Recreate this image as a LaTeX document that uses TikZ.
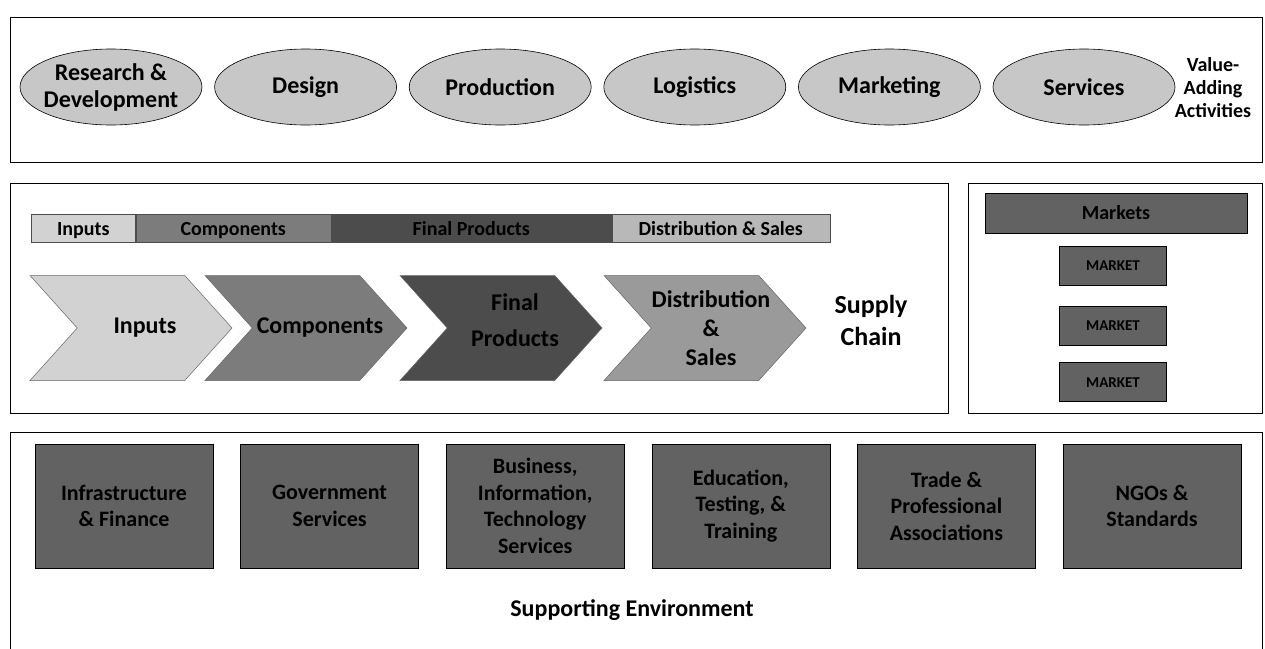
\documentclass[tikz,border=0pt]{standalone}
\usepackage{fontspec}
\setmainfont{Carlito}
\usetikzlibrary{positioning,shapes.geometric,shapes.symbols}

\definecolor{inputgray}{HTML}{D2D2D2}
\definecolor{compgray}{HTML}{7C7C7C}
\definecolor{finalgray}{HTML}{4C4C4C}
\definecolor{distgray}{HTML}{9A9A9A}
\definecolor{distlight}{HTML}{B8B8B8}
\definecolor{boxgray}{HTML}{626262}

\begin{document}
\begin{tikzpicture}
    [x=1pt,y=-1pt,
    panel/.style={draw=black,line width=0.8pt},
    activity/.style={ellipse,draw=black,line width=0.6pt,fill=black!22,
    inner sep=0pt,minimum width=182pt,minimum height=76pt,align=center,
    font=\fontsize{24}{27}\selectfont\bfseries},
    legend/.style={rectangle,draw=black!70,line width=0.5pt,inner sep=0pt,
    minimum height=28pt,text height=16pt,text depth=1pt,
    font=\fontsize{20}{22}\selectfont\bfseries},
    stage/.style={signal,signal from=west,signal to=east,signal pointer angle=96,
    draw=black!60,line width=0.5pt,inner sep=0pt,minimum width=202pt,
    minimum height=105pt},
    stagetext/.style={align=center,xshift=14pt,
    font=\fontsize{24}{29}\selectfont\bfseries},
    market/.style={rectangle,draw=black,line width=0.6pt,fill=boxgray,inner sep=0pt,
    minimum width=107pt,minimum height=39pt,font=\fontsize{15}{17}\selectfont\bfseries},
    support/.style={rectangle,draw=black,line width=0.6pt,fill=boxgray,inner sep=0pt,
    minimum width=178pt,minimum height=124pt,align=center,
    font=\fontsize{22}{26.5}\selectfont\bfseries},
    caption/.style={align=center,font=\fontsize{26}{32}\selectfont\bfseries}]
    \useasboundingbox (0,0) rectangle (1265,648);

    % value-adding activities
    \draw[panel] (10,17) rectangle (1262,162);
    \node[activity,inner sep=-8pt] (research) at (111,87) {Research \&\\Development};
    \node[activity] (design) [right=12pt of research] {Design};
    \node[activity] (production) [right=12pt of design] {Production};
    \node[activity] (logistics) [right=12pt of production] {Logistics};
    \node[activity] (marketing) [right=12pt of logistics] {Marketing};
    \node[activity] (services) [right=12pt of marketing] {Services};
    \node[caption,font=\fontsize{20}{23}\selectfont\bfseries] (value) at (1213,88) {Value-\\Adding\\Activities};

    % supply chain
    \draw[panel] (10,183) rectangle (948,413);
    \node[legend,fill=inputgray,minimum width=104pt,anchor=west] (l inputs) at (31,228) {Inputs};
    \node[legend,fill=compgray,minimum width=195pt] (l components) [right=0pt of l inputs] {Components};
    \node[legend,fill=finalgray,minimum width=280pt] (l final) [right=0pt of l components] {Final Products};
    \node[legend,fill=distlight,minimum width=218pt] (l distribution) [right=0pt of l final] {Distribution \& Sales};
    \node[stage,fill=inputgray,label={[stagetext]center:Inputs}] (inputs) at (131,328) {};
    \node[stage,fill=compgray,label={[stagetext]center:Components}] (components) at (306,328) {};
    \node[stage,fill=finalgray,label={[stagetext,font=\fontsize{24}{36}\selectfont\bfseries,yshift=8pt]center:Final\\Products}] (final) at (501,328) {};
    \node[stage,fill=distgray,label={[stagetext,xshift=-8pt]center:Distribution\\\&\\Sales}] (distribution) at (705,328) {};
    \node[caption] (supply) at (871,320) {Supply\\Chain};

    % markets
    \draw[panel] (968,183) rectangle (1262,413);
    \node[market,minimum width=262pt,minimum height=40pt,font=\fontsize{20}{22}\selectfont\bfseries] (markets) at (1116,213) {Markets};
    \node[market] (market a) at (1113,266) {MARKET};
    \node[market] (market b) [below=20pt of market a] {MARKET};
    \node[market] (market c) [below=17pt of market b] {MARKET};

    % supporting environment
    \draw[panel] (10,432) rectangle (1262,660);
    \node[support] (infrastructure) at (124,506) {Infrastructure\\\& Finance};
    \node[support] (government) [right=27pt of infrastructure] {Government\\Services};
    \node[support] (business) [right=27pt of government] {Business,\\Information,\\Technology\\Services};
    \node[support] (education) [right=27pt of business] {Education,\\Testing, \&\\Training};
    \node[support] (trade) [right=27pt of education] {Trade \&\\Professional\\Associations};
    \node[support] (ngos) [right=27pt of trade] {NGOs \&\\Standards};
    \node[caption,font=\fontsize{24}{28}\selectfont\bfseries] (supporting) at (632,610) {Supporting Environment};
\end{tikzpicture}
\end{document}
